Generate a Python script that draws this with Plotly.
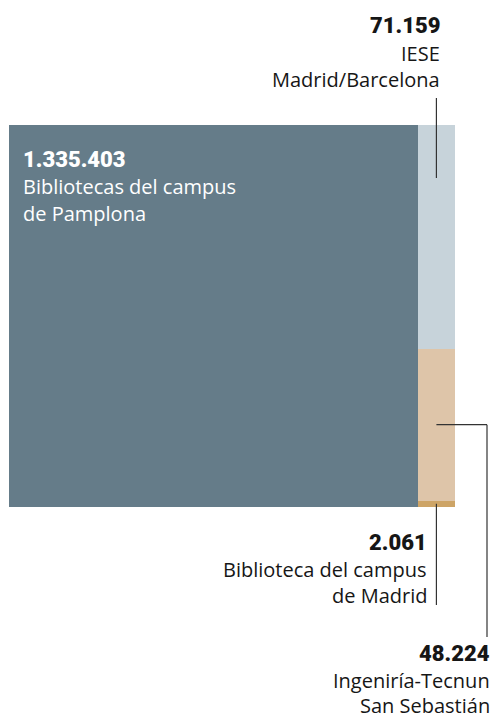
import plotly.graph_objects as go

names = ["Bibliotecas del campus de Pamplona", "IESE Madrid/Barcelona",
         "Ingeniría-Tecnun San Sebastián", "Biblioteca del campus de Madrid"]
values = [1335403, 71159, 48224, 2061]
value_labels = ["1.335.403", "71.159", "48.224", "2.061"]
colors = ["#657c89", "#c7d3da", "#dec5a9", "#cda466"]

W, H = 496, 716
ML, MR, MT, MB = 9, 41, 125, 209
PW, PH = W - ML - MR, H - MT - MB

P = values[0]
col = values[1:]
C = sum(col)
total = P + C

def py(ypx):
    return (H - MB - ypx) / PH

def pxx(xpx):
    return (xpx - ML) / PW

fig = go.Figure()
fig.add_trace(go.Bar(x=[P / 2], y=[1], base=[0], width=[P],
                     marker=dict(color=colors[0], line=dict(width=0)),
                     hoverinfo="skip", showlegend=False))
order = [3, 2, 1]
base = 0.0
mids = {}
for i in order:
    h = values[i] / C
    fig.add_trace(go.Bar(x=[P + C / 2], y=[h], base=[base], width=[C],
                         marker=dict(color=colors[i], line=dict(width=0)),
                         hoverinfo="skip", showlegend=False))
    mids[i] = base + h / 2
    base += h

xc = (P + C / 2) / total

REG = "Open Sans"
BOLD = "Roboto"
DARK = "#161616"
ann = []
def text(s, xpx, ypx, anchor, size, bold=False, color=DARK):
    f = dict(family=BOLD if bold else REG, size=size, color=color)
    if bold:
        f["weight"] = 900
    ann.append(dict(text=s, x=pxx(xpx), y=py(ypx),
                    xref="paper", yref="paper", xanchor=anchor, yanchor="middle",
                    showarrow=False, font=f, borderpad=0))

BS, RS = 22, 20
text(value_labels[1], 441, 25, "right", BS, True)
text("IESE", 441, 53, "right", RS)
text("Madrid/Barcelona", 441, 80, "right", RS)

text(value_labels[0], 22, 159, "left", BS, True, "white")
text("Bibliotecas del campus", 22, 186, "left", RS, color="white")
text("de Pamplona", 22, 213, "left", RS, color="white")

text(value_labels[3], 428, 542, "right", BS, True)
text("Biblioteca del campus", 428, 569, "right", RS)
text("de Madrid", 428, 595, "right", RS)

text(value_labels[2], 491, 653, "right", BS, True)
text("Ingeniría-Tecnun", 491, 680, "right", RS)
text("San Sebastián", 491, 705, "right", RS)

LC = "#333333"
lw = 1.2
shapes = [
    dict(type="line", xref="paper", yref="paper", x0=xc, x1=xc,
         y0=py(98), y1=py(178), line=dict(color=LC, width=lw)),
    dict(type="line", xref="paper", yref="paper", x0=xc, x1=pxx(487),
         y0=mids[2], y1=mids[2], line=dict(color=LC, width=lw)),
    dict(type="line", xref="paper", yref="paper", x0=pxx(487), x1=pxx(487),
         y0=mids[2], y1=py(637), line=dict(color=LC, width=lw)),
    dict(type="line", xref="paper", yref="paper", x0=xc, x1=xc,
         y0=mids[3], y1=py(605), line=dict(color=LC, width=lw)),
]

fig.update_layout(
    width=W, height=H, margin=dict(l=ML, r=MR, t=MT, b=MB),
    paper_bgcolor="white", plot_bgcolor="white",
    barmode="overlay", bargap=0,
    xaxis=dict(range=[0, total], visible=False, fixedrange=True),
    yaxis=dict(range=[0, 1], visible=False, fixedrange=True),
    annotations=ann, shapes=shapes,
)
fig.write_html("out.html", config={"displayModeBar": False},
               post_script="document.body.style.margin='0';document.body.style.overflow='hidden';")
